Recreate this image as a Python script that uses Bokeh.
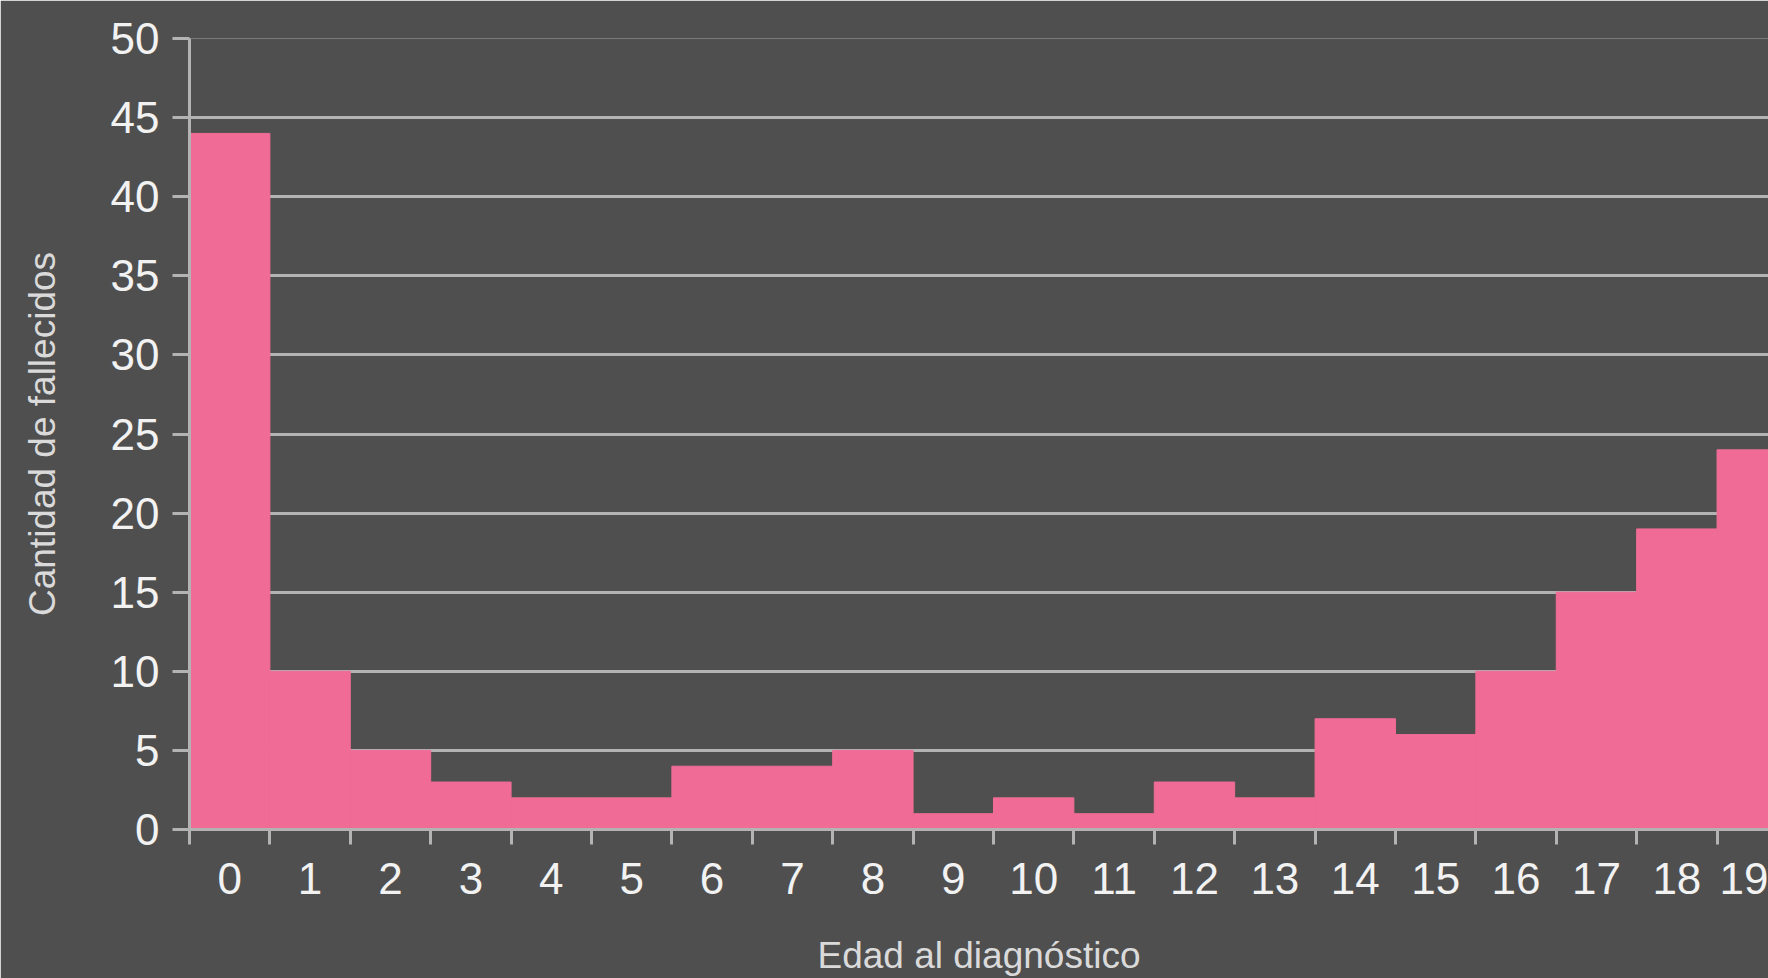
from bokeh.plotting import figure
from bokeh.models import LinearAxis, FixedTicker, Range1d
from bokeh.embed import file_html
from bokeh.resources import INLINE

ages = list(range(20))
deaths = [44, 10, 5, 3, 2, 2, 4, 4, 5, 1, 2, 1, 3, 2, 7, 6, 10, 15, 19, 24]
age_labels = [str(a) for a in ages]
y_ticks = list(range(0, 55, 5))

BG = "#4f4f4f"
GRID = "#b3b3b3"
PINK = "#f06c96"
TICK_TXT = "#f2f2f2"
LABEL_TXT = "#dadada"
FONT = "Liberation Sans"

p = figure(width=1768, height=978, output_backend="svg", toolbar_location=None,
           x_range=Range1d(0, 19.64), y_range=Range1d(0, 50),
           min_border_left=189, min_border_right=0, min_border_top=38, min_border_bottom=0)
p.background_fill_color = BG
p.border_fill_color = BG
p.outline_line_color = None

p.quad(left=ages, right=[a + 1 for a in ages], bottom=0, top=deaths,
       fill_color=PINK, line_color=PINK, line_width=1)

# y axis
ya = p.yaxis[0]
ya.ticker = FixedTicker(ticks=y_ticks)
ya.axis_line_color = GRID
ya.axis_line_width = 3
ya.major_tick_line_color = GRID
ya.major_tick_line_width = 3
ya.major_tick_out = 17
ya.major_tick_in = 0
ya.minor_tick_line_color = None
ya.major_label_standoff = 13
ya.major_label_text_font = FONT
ya.major_label_text_font_size = "44px"
ya.major_label_text_color = TICK_TXT
ya.axis_label = "Cantidad de fallecidos"
ya.axis_label_text_font = FONT
ya.axis_label_text_font_size = "37px"
ya.axis_label_text_font_style = "normal"
ya.axis_label_text_color = LABEL_TXT
ya.axis_label_standoff = 45

p.ygrid.ticker = FixedTicker(ticks=y_ticks)
p.ygrid.grid_line_color = GRID
p.ygrid.grid_line_width = 3
p.xgrid.grid_line_color = None

# x axis: ticks at category boundaries
xa = p.xaxis[0]
xa.ticker = FixedTicker(ticks=list(range(0, 21)))
xa.axis_line_color = GRID
xa.axis_line_width = 3
xa.major_tick_line_color = GRID
xa.major_tick_line_width = 3
xa.major_tick_out = 15
xa.major_tick_in = 0
xa.minor_tick_line_color = None
xa.major_label_overrides = {i: "" for i in range(0, 21)}
xa.major_label_text_font_size = "1px"
xa.major_label_standoff = 0

# x axis labels at category centres
xl = LinearAxis(ticker=FixedTicker(ticks=[a + 0.5 for a in ages]))
xl.major_label_overrides = {a + 0.5: lab for a, lab in zip(ages, age_labels)}
xl.axis_line_color = None
xl.major_tick_line_color = None
xl.minor_tick_line_color = None
xl.major_tick_out = 0
xl.major_tick_in = 0
xl.major_label_standoff = 18
xl.major_label_text_font = FONT
xl.major_label_text_font_size = "44px"
xl.major_label_text_color = TICK_TXT
xl.axis_label = "Edad al diagnóstico"
xl.axis_label_text_font = FONT
xl.axis_label_text_font_size = "37px"
xl.axis_label_text_font_style = "normal"
xl.axis_label_text_color = LABEL_TXT
xl.axis_label_standoff = 38
p.add_layout(xl, "below")

open("out.html", "w").write(file_html(p, INLINE))
